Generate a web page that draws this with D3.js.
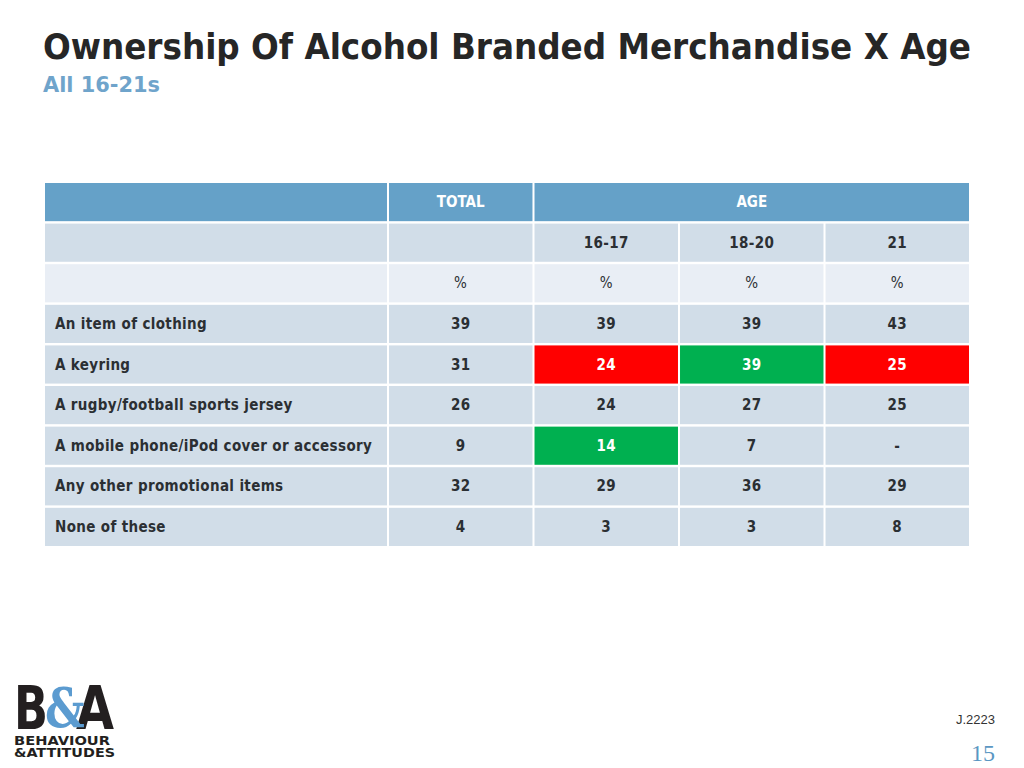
<!DOCTYPE html>
<html>
<head>
<meta charset="utf-8" />
<title>Ownership Of Alcohol Branded Merchandise X Age</title>
<script src="https://d3js.org/d3.v7.min.js"></script>
<style>
body { margin: 0; background: #fff; }
svg { display: block; font-family: "DejaVu Sans Condensed", "DejaVu Sans", sans-serif; }
</style>
</head>
<body>
<div id="chart"></div>
<script>
// data
var columns = ["TOTAL", "16-17", "18-20", "21"];
var items = ["An item of clothing", "A keyring", "A rugby/football sports jersey",
             "A mobile phone/iPod cover or accessory", "Any other promotional items", "None of these"];
var total   = ["39", "31", "26", "9", "32", "4"];
var age1617 = ["39", "24", "24", "14", "29", "3"];
var age1820 = ["39", "39", "27", "7", "36", "3"];
var age21   = ["43", "25", "25", "-", "29", "8"];
// significance flags: "lo" red, "hi" green
var flags1617 = ["", "lo", "", "hi", "", ""];
var flags1820 = ["", "hi", "", "", "", ""];
var flags21   = ["", "lo", "", "", "", ""];

var width = 1024, height = 768;
var svg = d3.select("#chart").append("svg")
    .attr("width", width).attr("height", height);

// title
svg.append("text").attr("x", 43).attr("y", 59)
    .attr("font-size", 36).attr("font-weight", "bold").attr("fill", "#262626")
    .attr("textLength", 928).attr("lengthAdjust", "spacingAndGlyphs")
    .text("Ownership Of Alcohol Branded Merchandise X Age");
svg.append("text").attr("x", 43).attr("y", 92)
    .attr("font-size", 22).attr("font-weight", "bold").attr("fill", "#6fa4cb")
    .attr("textLength", 117).attr("lengthAdjust", "spacingAndGlyphs")
    .text("All 16-21s");

// table scales
var rowKeys = ["head", "age", "pct"].concat(items);
var y = d3.scaleBand().domain(rowKeys).range([183, 546]).paddingInner(0.06);
var x = d3.scaleBand().domain(columns).range([389, 969]).paddingInner(0.014);
var labelX0 = 45, labelX1 = 387;

var headBlue = "#65a1c8", rowBlue = "#d1dde8", pctBlue = "#e9eef5";
var txt = "#2b2f33";

var g = svg.append("g");

// header row
g.append("rect").attr("x", labelX0).attr("y", y("head"))
    .attr("width", labelX1 - labelX0).attr("height", y.bandwidth()).attr("fill", headBlue);
g.append("rect").attr("x", x("TOTAL")).attr("y", y("head"))
    .attr("width", x.bandwidth()).attr("height", y.bandwidth()).attr("fill", headBlue);
g.append("rect").attr("x", x("16-17")).attr("y", y("head"))
    .attr("width", x("21") + x.bandwidth() - x("16-17")).attr("height", y.bandwidth()).attr("fill", headBlue);
g.append("text").attr("x", x("TOTAL") + x.bandwidth() / 2).attr("y", y("head") + y.bandwidth() / 2 + 5)
    .attr("text-anchor", "middle").attr("font-size", 15).attr("font-weight", "bold").attr("fill", "#fff").text("TOTAL");
g.append("text").attr("x", (x("16-17") + x("21") + x.bandwidth()) / 2).attr("y", y("head") + y.bandwidth() / 2 + 5)
    .attr("text-anchor", "middle").attr("font-size", 15).attr("font-weight", "bold").attr("fill", "#fff").text("AGE");

// age group row and % row
["age", "pct"].forEach(function(r) {
    var fill = r === "age" ? rowBlue : pctBlue;
    g.append("rect").attr("x", labelX0).attr("y", y(r))
        .attr("width", labelX1 - labelX0).attr("height", y.bandwidth()).attr("fill", fill);
    columns.forEach(function(c) {
        g.append("rect").attr("x", x(c)).attr("y", y(r))
            .attr("width", x.bandwidth()).attr("height", y.bandwidth()).attr("fill", fill);
        var label = r === "pct" ? "%" : (c === "TOTAL" ? "" : c);
        g.append("text").attr("x", x(c) + x.bandwidth() / 2).attr("y", y(r) + y.bandwidth() / 2 + 5)
            .attr("text-anchor", "middle").attr("font-size", 15).attr("letter-spacing", 0.4)
            .attr("font-weight", r === "age" ? "bold" : "normal").attr("fill", txt).text(label);
    });
});

// data rows
var series = [total, age1617, age1820, age21];
var flags = [null, flags1617, flags1820, flags21];
items.forEach(function(item, i) {
    g.append("rect").attr("x", labelX0).attr("y", y(item))
        .attr("width", labelX1 - labelX0).attr("height", y.bandwidth()).attr("fill", rowBlue);
    g.append("text").attr("x", 55).attr("y", y(item) + y.bandwidth() / 2 + 5)
        .attr("font-size", 15).attr("font-weight", "bold").attr("letter-spacing", 0.35)
        .attr("fill", txt).text(item);
    columns.forEach(function(c, j) {
        var f = flags[j] ? flags[j][i] : "";
        var fill = f === "lo" ? "#ff0000" : f === "hi" ? "#00b050" : rowBlue;
        g.append("rect").attr("x", x(c)).attr("y", y(item))
            .attr("width", x.bandwidth()).attr("height", y.bandwidth()).attr("fill", fill);
        g.append("text").attr("x", x(c) + x.bandwidth() / 2).attr("y", y(item) + y.bandwidth() / 2 + 5)
            .attr("text-anchor", "middle").attr("font-size", 15).attr("font-weight", "bold")
            .attr("letter-spacing", 0.4).attr("fill", f ? "#fff" : txt).text(series[j][i]);
    });
});

// logo: big letters scaled tall so their boxes stay above the wordmark
var logo = svg.append("g").attr("transform", "translate(14,0)");
var big = logo.append("g").attr("transform", "translate(0,729) scale(1,1.25)");
big.append("text").attr("x", 0).attr("y", 0).attr("font-size", 48).attr("font-weight", "bold")
    .attr("fill", "#231f20").attr("textLength", 34).attr("lengthAdjust", "spacingAndGlyphs").text("B");
big.append("text").attr("x", 62).attr("y", 0).attr("font-size", 48).attr("font-weight", "bold")
    .attr("fill", "#231f20").attr("textLength", 38).attr("lengthAdjust", "spacingAndGlyphs").text("A");
big.append("text").attr("x", 31).attr("y", -2).attr("font-size", 44).attr("font-weight", "bold")
    .attr("font-family", "DejaVu Serif").attr("fill", "#5b9bd0").text("&");
logo.append("text").attr("x", 0).attr("y", 745).attr("font-size", 12).attr("font-weight", "bold")
    .attr("fill", "#231f20").attr("textLength", 96).attr("lengthAdjust", "spacingAndGlyphs").text("BEHAVIOUR");
logo.append("text").attr("x", 0).attr("y", 757).attr("font-size", 12).attr("font-weight", "bold")
    .attr("fill", "#231f20").attr("textLength", 101).attr("lengthAdjust", "spacingAndGlyphs").text("&ATTITUDES");

// footer
svg.append("text").attr("x", 995).attr("y", 724).attr("text-anchor", "end")
    .attr("font-size", 13).attr("font-family", "Liberation Sans, sans-serif").attr("fill", "#333").text("J.2223");
svg.append("text").attr("x", 995).attr("y", 761).attr("text-anchor", "end")
    .attr("font-size", 24).attr("font-family", "Liberation Serif, serif").attr("fill", "#5b97c3").text("15");
</script>
</body>
</html>
